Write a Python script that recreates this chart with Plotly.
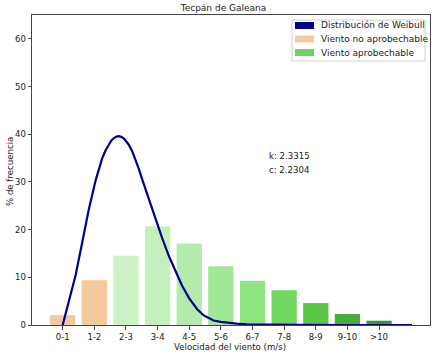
import plotly.graph_objects as go

# ---- data ----
categories = ["0-1", "1-2", "2-3", "3-4", "4-5", "5-6", "6-7", "7-8", "8-9", "9-10", ">10"]
frequency = [2.1, 9.4, 14.5, 20.7, 17.1, 12.3, 9.3, 7.3, 4.6, 2.3, 0.9]
bar_colors = ["#f5c99b", "#f5c99b", "#cdf2c5", "#c4f0bc", "#b3ecaa", "#a1e898",
              "#8fe482", "#72d862", "#5bc84a", "#44b035", "#339a28"]
no_aprov_count = 2

# Weibull curve (wind speed placed on the category index axis)
weibull_x = [0, 0.2, 0.41, 0.62, 0.83, 1.04, 1.15, 1.25, 1.36, 1.46, 1.54, 1.62, 1.70, 1.78, 1.87,
             1.95, 2.09, 2.20, 2.30, 2.41, 2.51, 2.72, 2.93, 3.15, 3.36, 3.56, 3.77, 4.0, 4.12,
             4.25, 4.46, 4.6, 4.77, 5.0, 5.19, 5.5, 5.82, 6.5, 7.5, 9.0, 11.04]
weibull_y = [0, 4.9, 10.5, 17.4, 24.4, 30.3, 32.9, 35.0, 36.7, 37.9, 38.7, 39.2, 39.5, 39.6, 39.4,
             39.0, 37.8, 36.4, 34.7, 32.7, 30.6, 26.4, 22.2, 18.1, 14.4, 11.3, 8.3, 5.6, 4.4,
             3.3, 2.0, 1.45, 0.95, 0.65, 0.45, 0.27, 0.15, 0.05, 0.01, 0, 0]

k_text = "k: 2.3315"
c_text = "c: 2.2304"
title = "Tecpán de Galeana"
x_title = "Velocidad del viento (m/s)"
y_title = "% de frecuencia"
legend_labels = ["Distribución de Weibull", "Viento no aprobechable", "Viento aprobechable"]
legend_colors = ["#00008b", "#f5c99b", "#6ad45c"]

FONT = "DejaVu Sans"
TXT = "#1a1a1a"
positions = list(range(len(categories)))

fig = go.Figure()
fig.add_trace(go.Bar(
    x=positions[:no_aprov_count], y=frequency[:no_aprov_count],
    marker=dict(color=bar_colors[:no_aprov_count], line=dict(width=0)),
    width=0.8, showlegend=False, hoverinfo="skip"))
fig.add_trace(go.Bar(
    x=positions[no_aprov_count:], y=frequency[no_aprov_count:],
    marker=dict(color=bar_colors[no_aprov_count:], line=dict(width=0)),
    width=0.8, showlegend=False, hoverinfo="skip"))
fig.add_trace(go.Scatter(
    x=weibull_x, y=weibull_y, mode="lines",
    line=dict(color="#00008b", width=2.2, shape="linear"),
    showlegend=False, hoverinfo="skip", cliponaxis=False))

W, H = 447, 358
# plot area in window pixels
PL, PR, PT, PB = 32, 430, 15, 325
L, R, T, B = PL, W - PR, PT, H - PB
pw, ph = PR - PL, PB - PT

def px(x):
    return (x - PL) / pw

def py(y):
    return (PB - y) / ph

shapes = []
annotations = []
# legend box
shapes.append(dict(type="rect", xref="paper", yref="paper",
                   x0=px(292), x1=px(425), y0=py(61), y1=py(20),
                   line=dict(color="#d0d0d0", width=1), fillcolor="rgba(255,255,255,0.85)"))
for i, (lab, col) in enumerate(zip(legend_labels, legend_colors)):
    yc = 25.5 + i * 13.5
    shapes.append(dict(type="rect", xref="paper", yref="paper",
                       x0=px(295), x1=px(314), y0=py(yc + 3.5), y1=py(yc - 3.5),
                       line=dict(width=0), fillcolor=col))
    annotations.append(dict(text=lab, xref="paper", yref="paper",
                            x=px(318.5), y=py(yc), xanchor="left", yanchor="middle",
                            showarrow=False, font=dict(family=FONT, size=9, color=TXT)))

annotations.append(dict(text=k_text, x=6.45, y=35.5, xanchor="left", yanchor="middle",
                        showarrow=False, font=dict(family=FONT, size=8.6, color=TXT)))
annotations.append(dict(text=c_text, x=6.45, y=32.6, xanchor="left", yanchor="middle",
                        showarrow=False, font=dict(family=FONT, size=8.6, color=TXT)))
# axis titles
annotations.append(dict(text=x_title, xref="paper", yref="paper", x=px(230), y=py(347),
                        xanchor="center", yanchor="middle", showarrow=False,
                        font=dict(family=FONT, size=8.6, color=TXT)))
annotations.append(dict(text=y_title, xref="paper", yref="paper", x=px(10), y=py(172),
                        xanchor="center", yanchor="middle", showarrow=False, textangle=-90,
                        font=dict(family=FONT, size=8.6, color=TXT)))

fig.update_layout(
    width=W, height=H,
    margin=dict(l=L, r=R, t=T, b=B, pad=0, autoexpand=False),
    paper_bgcolor="white", plot_bgcolor="white",
    title=dict(text=title, x=px(231), xanchor="center", y=1 - 7.5 / H,
               yanchor="middle", font=dict(family=FONT, size=9, color=TXT)),
    font=dict(family=FONT, size=8.5, color=TXT),
    bargap=0.2,
    shapes=shapes, annotations=annotations,
    xaxis=dict(range=[-0.97, 11.61], tickmode="array", tickvals=positions, ticktext=categories,
               showgrid=False, zeroline=False, showline=True, linecolor="#444", linewidth=1,
               mirror=True, ticks="outside", ticklen=3.5, tickcolor="#444", automargin=False,
               tickfont=dict(family=FONT, size=8.5, color=TXT)),
    yaxis=dict(range=[0, 65], tickvals=[0, 10, 20, 30, 40, 50, 60],
               showgrid=False, zeroline=False, showline=True, linecolor="#444", linewidth=1,
               mirror=True, ticks="outside", ticklen=3.5, tickcolor="#444", automargin=False,
               tickfont=dict(family=FONT, size=8.5, color=TXT)),
)

fig.write_html("out.html", config={"displayModeBar": False, "staticPlot": True},
               post_script="document.body.style.margin='0';document.body.style.overflow='hidden';")
